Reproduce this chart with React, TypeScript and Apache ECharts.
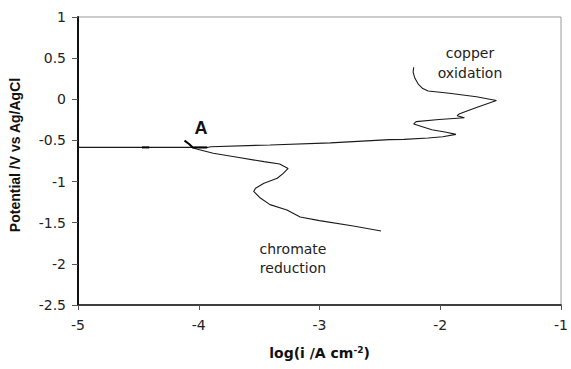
import React, { useEffect, useRef } from "react";
import * as echarts from "echarts";

// x = log(i / A cm^-2), y = potential / V vs Ag/AgCl
const cathodicX = [-2.49, -2.72, -3.0, -3.16, -3.27, -3.41, -3.49, -3.545, -3.53, -3.46, -3.35, -3.3, -3.26, -3.33, -3.46, -3.68, -3.88, -4.01, -4.05];
const cathodicY = [-1.6, -1.54, -1.475, -1.43, -1.345, -1.28, -1.2, -1.12, -1.08, -1.02, -0.96, -0.9, -0.84, -0.786, -0.758, -0.705, -0.656, -0.608, -0.588];

const anodicX = [-5.0, -4.45, -3.93, -3.9, -3.41, -2.91, -2.42, -2.3, -2.1, -1.98, -1.87, -1.95, -2.07, -2.22, -2.2, -2.01, -1.8, -1.86, -1.84, -1.7, -1.535, -1.7, -1.925, -2.1, -2.145, -2.18, -2.21, -2.225, -2.22];
const anodicY = [-0.585, -0.585, -0.585, -0.576, -0.555, -0.53, -0.49, -0.487, -0.47, -0.455, -0.426, -0.4, -0.37, -0.3, -0.272, -0.245, -0.225, -0.2, -0.175, -0.1, -0.015, 0.03, 0.073, 0.1, 0.13, 0.18, 0.255, 0.33, 0.39];

const hookX = [-4.118, -4.08, -4.05, -3.93];
const hookY = [-0.503, -0.543, -0.585, -0.585];
const dashX = [-4.47, -4.41];
const dashY = [-0.585, -0.585];

const xTicks = { min: -5, max: -1, interval: 1 };
const yTicks = { min: -2.5, max: 1, interval: 0.5 };

const zip = (xs: number[], ys: number[]) => xs.map((x, i) => [x, ys[i]]);

export default function App() {
  const ref = useRef<HTMLDivElement>(null);
  useEffect(() => {
    if (!ref.current) return;
    const chart = echarts.init(ref.current, undefined, { renderer: "svg" });
    const lineColor = "#1a1a1a";
    const labelFont = "DejaVu Sans";
    const note = (text: string, x: number, y: number) => ({
      type: "text",
      x,
      y,
      style: { text, font: `14px '${labelFont}'`, fill: "#222", align: "center", verticalAlign: "middle" },
    });
    chart.setOption({
      animation: false,
      backgroundColor: "#fff",
      grid: { left: 76, right: 9, top: 17, bottom: 64, show: true, borderColor: "#999", borderWidth: 1 },
      xAxis: {
        type: "value",
        ...xTicks,
        axisLine: { show: true, onZero: false, lineStyle: { color: "#111", width: 1.5 } },
        axisTick: { show: true, length: 5, lineStyle: { color: "#555" } },
        axisLabel: { margin: 13, fontSize: 14, color: "#222", fontFamily: labelFont },
        splitLine: { show: false },
        name: "{a|log(i /A cm}{s|-2}{a|)}",
        nameLocation: "middle",
        nameGap: 40,
        nameTextStyle: {
          rich: {
            a: { fontSize: 14, fontWeight: "bold", fontFamily: labelFont, color: "#111", lineHeight: 16 },
            s: { fontSize: 9, fontWeight: "bold", fontFamily: labelFont, color: "#111", verticalAlign: "top", lineHeight: 16 },
          },
        },
      },
      yAxis: {
        type: "value",
        ...yTicks,
        axisLine: { show: true, onZero: false, lineStyle: { color: "#111", width: 2 } },
        axisTick: { show: true, length: 6, lineStyle: { color: "#555" } },
        axisLabel: { margin: 12, fontSize: 14, color: "#222", fontFamily: labelFont },
        splitLine: { show: false },
        name: "Potential /V vs Ag/AgCl",
        nameLocation: "middle",
        nameGap: 56,
        nameTextStyle: { fontSize: 14, fontWeight: "bold", fontFamily: "Liberation Sans", color: "#111", padding: [0, 0, 0, 12] },
      },
      series: [
        { type: "line", data: zip(cathodicX, cathodicY), showSymbol: false, lineStyle: { color: lineColor, width: 1.1 } },
        { type: "line", data: zip(anodicX, anodicY), showSymbol: false, lineStyle: { color: lineColor, width: 1.1 } },
        { type: "line", data: zip(hookX, hookY), showSymbol: false, lineStyle: { color: "#000", width: 2 } },
        { type: "line", data: zip(dashX, dashY), showSymbol: false, lineStyle: { color: "#000", width: 2 } },
      ],
      graphic: [
        note("copper", 470, 53),
        note("oxidation", 470, 73),
        note("chromate", 293, 249),
        note("reduction", 293, 268),
        { type: "text", x: 201, y: 128, style: { text: "A", font: `bold 18px 'Liberation Sans'`, fill: "#111", align: "center", verticalAlign: "middle" } },
      ],
    });
    return () => chart.dispose();
  }, []);
  return <div ref={ref} style={{ position: "absolute", left: 0, top: 0, width: 571, height: 369 }} />;
}
